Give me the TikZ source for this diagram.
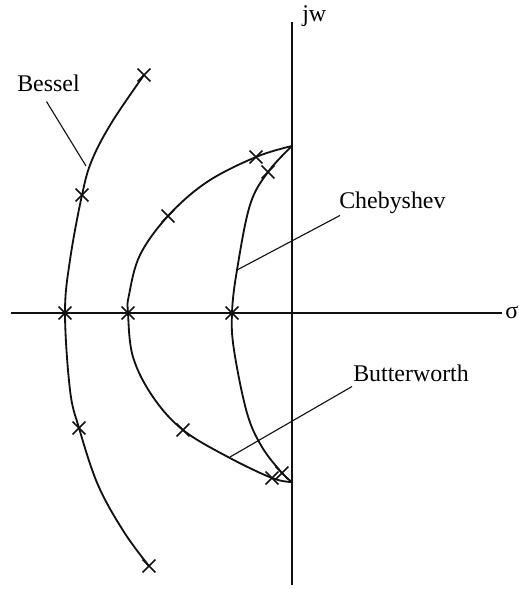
\documentclass[tikz,border=0pt]{standalone}
\usepackage{fontspec}
\setmainfont{Liberation Serif}
\usetikzlibrary{shapes.misc}
\definecolor{PZInk}{HTML}{111111}
\tikzset{
  locus/.style={PZInk,line width=1.3pt},
  axis/.style={PZInk,line width=0.9pt},
  leader/.style={PZInk,line width=0.8pt},
  pole/.style={draw=PZInk,cross out,line width=1.2pt,minimum size=0.28cm,inner sep=0pt},
  tag/.style={inner sep=0pt,font=\fontsize{17pt}{20pt}\selectfont}
}
\begin{document}
\begin{tikzpicture}[x=0.025cm,y=-0.025cm]
\path[use as bounding box] (0,0) rectangle (518,589);
\draw[axis] (292,22) -- (292,585);
\draw[axis] (11,313) -- (502,313);
\node[tag,anchor=base west] (jw) at (302,22) {jw};
\node[tag,anchor=west] (sigma) at (505,312) {σ};
\draw[locus] plot[smooth,tension=0.6] coordinates {(144,75) (112,122) (92,160) (82,195) (70,260) (65,313) (70,390) (79,428) (98,485) (124,532) (149,566)};
\draw[locus] plot[smooth,tension=0.6] coordinates {(292,146) (256,157) (207,182) (168,216) (140,255) (129,295) (128,313) (133,357) (153,397) (183,430) (228,457) (272,478) (292,482)};
\draw[locus] plot[smooth,tension=0.6] coordinates {(292,146) (268,172) (250,205) (237,270) (232,313) (234,350) (247,413) (262,447) (282,473) (292,482)};
\node[pole] (b1) at (144,75) {};
\node[pole] (b2) at (82,195) {};
\node[pole] (b3) at (65,313) {};
\node[pole] (b4) at (79,428) {};
\node[pole] (b5) at (149,566) {};
\node[pole] (w1) at (256,157) {};
\node[pole] (w2) at (168,216) {};
\node[pole] (w3) at (128,313) {};
\node[pole] (w4) at (183,430) {};
\node[pole] (w5) at (272,478) {};
\node[pole] (c1) at (268,172) {};
\node[pole] (c2) at (232,313) {};
\node[pole] (c3) at (282,473) {};
\node[tag,anchor=base west] (bessel) at (17,92) {Bessel};
\node[tag,anchor=base west] (cheby) at (339,209) {Chebyshev};
\node[tag,anchor=base west] (butter) at (353,381) {Butterworth};
\coordinate (besselTip) at (86,166);
\coordinate (chebyTip) at (237,270);
\coordinate (butterTip) at (230,457);
\draw[leader] ([shift={(-2,9)}]bessel.south) -- (besselTip);
\draw[leader] ([shift={(1,1)}]cheby.south west) -- (chebyTip);
\draw[leader] ([shift={(-1,5)}]butter.south west) -- (butterTip);
\end{tikzpicture}
\end{document}
